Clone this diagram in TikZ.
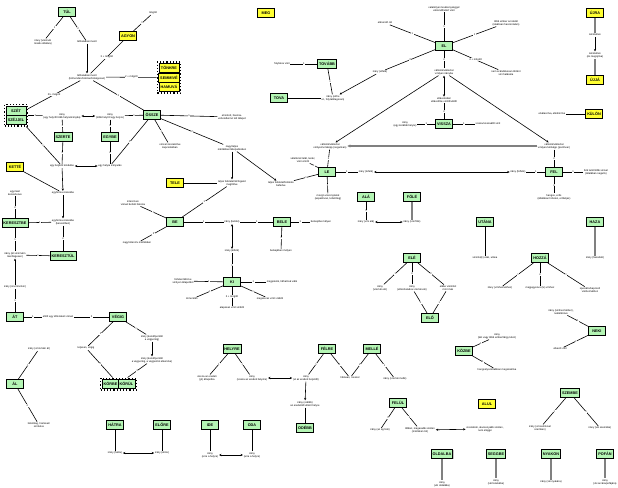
\documentclass[tikz,border=0pt]{standalone}
\usepackage{fontspec}
\setmainfont{Liberation Sans}
\usetikzlibrary{arrows.meta,shadows,fit}
\definecolor{boxgreen}{HTML}{B4F5B4}
\definecolor{boxyellow}{HTML}{FFFF33}
\newcommand{\tfont}{\fontsize{2.6}{3}\selectfont}
\newcommand{\bfont}{\fontsize{3.8}{4.2}\selectfont\bfseries}
\tikzset{
 gbox/.style={draw=black, line width=0.8pt, fill=boxgreen, font=\bfont, minimum width=17pt, minimum height=9pt, inner sep=1.5pt, drop shadow={shadow xshift=0.8pt, shadow yshift=-0.8pt, fill=black!45}},
 ybox/.style={gbox, fill=boxyellow},
 txt/.style={align=center, font=\tfont, inner sep=0.7pt},
 ln/.style={draw=black, line width=0.6pt},
 arr/.style={ln, -{Stealth[length=2.4pt, width=2.2pt]}},
 barr/.style={ln, {Stealth[length=2.4pt, width=2.2pt]}-{Stealth[length=2.4pt, width=2.2pt]}},
 gln/.style={draw=gray, line width=1.1pt},
 lbl/.style={fill=white, inner sep=0.4pt, font=\tfont},
 grp/.style={draw=black, dotted, line width=1.2pt, inner sep=1pt},
}
\begin{document}
\begin{tikzpicture}[x=1pt,y=-1pt]
\useasboundingbox (0,0) rectangle (618,487);
% ---------- top left
\node[gbox] (tul) at (67,12) {TÚL};
\node[txt] (t1) at (43,42) {irány (vmin/vki\\másik oldalára)};
\node[txt] (t2) at (87,42) {túlhaladási mező};
\node[txt] (mogott) at (153,13) {mögött};
\node[ybox] (agyon) at (128,36) {AGYON};
\node[txt] (t3) at (87,77) {túlhaladási mező\\(túlmenően/túlzóan/túlságosan)};
\node[ybox, minimum width=20pt] (tonkre) at (169,68) {TÖNKRE};
\node[ybox, minimum width=20pt] (szetre) at (169,77.5) {SEMMIVÉ};
\node[ybox, minimum width=20pt] (kiaba) at (169,87) {HAMUVÁ};
\node[grp, fit=(tonkre)(szetre)(kiaba)] (trip) {};
\node[gbox, minimum width=20pt] (szet) at (16,110.5) {SZÉT};
\node[gbox, minimum width=20pt] (szejjel) at (16,120) {SZÉJJEL};
\node[grp, fit=(szet)(szejjel)] (szetg) {};
\draw[ln] (tul) -- node[lbl]{1} (t1);
\draw[ln] (tul) -- node[lbl]{2} (t2);
\draw[ln] (mogott) -- node[lbl]{1} (agyon);
\draw[arr] (t2) -- (t3);
\draw[ln] (agyon) -- node[lbl]{3 + mögött} (t3);
\draw[ln] (t3) -- node[lbl]{2 + mögött} (trip);
\draw[ln] (t3) -- node[lbl]{2/+ mögött} (szetg);
% ---------- mid left
\node[gbox] (ossze) at (152,115) {ÖSSZE};
\draw[ln] (t3) -- node[lbl]{3} (ossze);
\node[txt] (t4) at (62,116) {irány\\(egy helyről több helyre/irányba)};
\node[txt] (t5) at (110,116) {irány\\(több helyről egy helyre)};
\draw[ln] (szetg) -- node[lbl]{1} (t4);
\draw[barr] (t4) -- (t5);
\draw[ln] (t5) -- node[lbl]{1} (ossze);
\node[gbox] (szerte) at (63,137) {SZERTE};
\node[gbox] (egybe) at (110,137) {EGYBE};
\draw[ln] (t4) -- node[lbl]{1} (szerte);
\draw[ln] (t5) -- node[lbl]{1} (egybe);
\node[txt] (t6) at (62,166) {egy helyből kiindulás};
\node[txt] (t7) at (110,166) {egy helyre irányulás};
\draw[barr] (t6) -- (t7);
\draw[ln] (szetg) -- node[lbl]{1} (t6);
\draw[ln] (szerte) -- node[lbl]{2} (t6);
\draw[ln] (ossze) -- node[lbl]{1} (t7);
\draw[ln] (egybe) -- node[lbl]{2} (t7);
\node[ybox] (kette) at (15,167) {KETTÉ};
\node[txt] (t8) at (63,193) {egyforma részekbe};
\node[txt] (t9) at (63,222) {egyforma részekbe\\(keresztben)};
\draw[ln] (kette) -- (t8);
\draw[arr] (t6) -- (t8);
\draw[arr] (t8) -- (t9);
\node[gbox] (kbe) at (15,223) {KERESZTBE};
\node[gbox] (kul) at (63,256) {KERESZTÜL};
\node[txt] (t87) at (15,193) {egymást\\keresztezve};
\draw[ln] (kbe) -- node[lbl]{2} (t87);
\draw[ln] (kbe) -- node[lbl]{1} (t9);
\draw[ln] (t9) -- node[lbl]{2} (kul);
\node[txt] (t10) at (15,255) {irány (át vmin/vkin\\merőlegesen)};
\draw[ln] (kbe) -- node[lbl]{1} (t10);
\draw[ln] (t10) -- node[lbl]{1} (kul);
\node[txt] (t11) at (15,287) {irány (át vmin/vkin)};
\draw[arr] (t11) -- (t10);
\node[gbox] (at) at (15,317) {ÁT};
\draw[ln] (at) -- node[lbl]{1} (t11);
\node[txt] (t12) at (58,317) {eltölt egy időszakot vmivel};
\node[gbox] (vegig) at (118,317) {VÉGIG};
\draw[ln] (at) -- node[lbl]{1} (t12);
\draw[ln] (t12) -- node[lbl]{2} (vegig);
\node[txt] (t13) at (86,348) {teljesen, végig};
\node[txt] (t14) at (152,338) {irány (kezdőponttól\\a végpontig)};
\node[txt] (t15) at (152,360) {irány (kezdőponttól\\a végpontig, a végpontot elkerülve)};
\draw[ln] (vegig) -- node[lbl]{1} (t13);
\draw[ln] (vegig) -- node[lbl]{1} (t14);
\draw[arr] (t14) -- (t15);
\node[gbox] (korbe) at (110.5,384) {KÖRBE};
\node[gbox] (korul) at (126.5,384) {KÖRÜL};
\node[grp, fit=(korbe)(korul)] (korg) {};
\draw[ln] (t13) -- node[lbl]{2} (korg);
\draw[ln] (t15) -- node[lbl]{2} (korg);
\node[gbox] (al) at (15,384) {ÁL};
\node[txt] (t88) at (39,349) {irány (vmin/vkin át)};
\node[txt] (t89) at (39,425) {látszólag, hamisan/\\színlelve};
\draw[ln] (al) -- node[lbl]{1} (t88);
\draw[ln] (al) -- node[lbl]{2} (t89);
% ---------- center
\node[txt] (t16) at (232,117) {elrontott, haszna-\\vehetetlenné tett állapot};
\node[txt] (t17) at (170,146) {vmivel összekötve\\kapcsolatban};
\node[txt] (t18) at (232,148) {nagy/teljes\\mértékben/kiterjedésben};
\draw[ln] (ossze) -- node[lbl]{1} (t16);
\draw[ln] (ossze) -- node[lbl]{1} (t17);
\draw[ln] (ossze) -- node[lbl]{2} (t18);
\node[txt] (t19) at (232,183) {teljes felületet/térfogatot\\megtöltve};
\node[ybox] (tele) at (175,183) {TELE};
\draw[arr] (t18) -- (t19);
\draw[ln] (tele) -- (t19);
\node[txt] (t20) at (281,184) {teljes felületet/felületre\\befedve};
\draw[arr] (t18) -- (t20);
\node[txt] (t21) at (303,160) {véletlenül lelát, lenéz,\\vmit vmiről};
\node[gbox] (le) at (327,172) {LE};
\draw[ln] (le) -- node[lbl]{1} (t21);
\draw[ln] (le) -- node[lbl]{1} (t20);
\node[txt] (t22) at (330,146) {változik/változtat\\vmilyen/vmiképp (negatívan)};
\draw[ln] (t22) -- node[lbl]{2} (le);
\node[txt] (t23) at (366,172) {irány (lefelé)};
\node[txt] (t25) at (518,172) {irány (felfelé)};
\node[gbox] (fel) at (554,172) {FEL};
\draw[ln] (le) -- node[lbl]{1} (t23);
\draw[barr] (t23) -- (t25);
\draw[ln] (t25) -- node[lbl]{1} (fel);
\node[txt] (t26) at (596,172) {felé tartó/több vmivel\\(általában negatív)};
\node[txt] (t27) at (554,197) {hangos, erős\\(általában hirtelen, erőteljes)};
\draw[ln] (fel) -- node[lbl]{1} (t26);
\draw[ln] (fel) -- node[lbl]{2} (t27);
\node[txt] (t28) at (554,146) {változik/változtat\\vmilyen/vmiképp (pozitívan)};
\draw[ln] (t28) -- node[lbl]{2} (fel);
\draw[gln, -{Stealth[length=3pt, width=3pt]}] (t28) -- (t22);
\node[txt] (t29) at (328,197) {mozgó viszonylatok\\(aspektívan, lehetőleg)};
\draw[ln] (le) -- node[lbl]{2} (t29);
\node[gbox] (ala) at (366,197) {ALÁ};
\node[gbox] (fole) at (412,197) {FÖLÉ};
\node[txt] (t30) at (366,222) {irány (vmi alá)};
\node[txt] (t31) at (412,222) {irány (vmi fölé)};
\draw[ln] (ala) -- node[lbl]{1} (t30);
\draw[gln] (fole) -- (t31);
\draw[barr] (t30) -- (t31);
\node[gbox] (be) at (175,222) {BE};
\node[gbox] (bele) at (282,222) {BELE};
\node[txt] (t32) at (232,222) {irány (befelé)};
\draw[ln] (be) -- node[lbl]{1} (t32);
\draw[ln] (t32) -- node[lbl]{1} (bele);
\node[txt] (t33) at (321,222) {belsejébe mélyen};
\node[txt] (t34) at (281,251) {belsejében mélyen};
\draw[ln] (bele) -- node[lbl]{1} (t33);
\draw[ln] (bele) -- node[lbl]{2} (t34);
\node[txt] (t35) at (133,203) {intenzíven\\vmivel befelé hatolva};
\node[txt] (t36) at (137,243) {nagy/intenzív mértékben};
\draw[ln] (be) -- node[lbl]{1} (t35);
\draw[ln] (be) -- node[lbl]{2} (t36);
\draw[ln] (be) -- node[lbl]{1} (t19);
\node[txt] (t37) at (232,251) {irány (kifelé)};
\node[gbox] (ki) at (232,282) {KI};
\draw[barr] (t32) -- (t37);
\draw[ln] (t37) -- node[lbl]{1} (ki);
\node[txt] (t38) at (183,281) {hirtelen/kitörve\\vmilyen állapotból};
\node[txt] (t39) at (282,282) {megjelenik, láthatóvá válik};
\node[txt] (t40) at (192,299) {kimerülés};
\node[txt] (t41) at (232,308) {alaposan vmit vmiből};
\node[txt] (t42) at (270,299) {megszerez vmit vmiből};
\draw[ln] (ki) -- node[lbl]{1} (t38);
\draw[ln] (ki) -- node[lbl]{1} (t39);
\draw[ln] (ki) -- node[lbl]{1} (t40);
\draw[ln] (ki) -- node[lbl]{2 + mögött} (t41);
\draw[ln] (ki) -- node[lbl]{1} (t42);
% ---------- top center / right
\node[ybox] (meg) at (266,13) {MEG};
\node[txt] (t90) at (282,64) {folytatva vmit};
\node[gbox] (tovabb) at (327,64) {TOVÁBB};
\draw[ln] (t90) -- node[lbl]{1} (tovabb);
\node[gbox] (tova) at (279,98) {TOVA};
\node[txt] (t43) at (333,98) {irány (előre\\el-, folytatólagosan)};
\draw[ln] (tova) -- (t43);
\draw[ln] (tovabb) -- node[lbl]{1} (t43);
\node[gbox] (el) at (444,46) {EL};
\node[txt] (t44) at (444,9) {valamilyen tevékenységgel\\elérendő/elért vmit};
\node[txt] (t45) at (385,23) {elérendő cél};
\node[txt] (t46) at (506,23) {több ember az ideált\\(ideálisan haszontalan)};
\node[txt] (t47) at (506,73) {nem szándékosan történt\\vmi hatására};
\node[txt] (t48) at (380,72) {irány (elfelé)};
\node[txt] (t49) at (444,72) {változik/változtat\\vmilyen irányba};
\draw[ln] (el) -- node[lbl]{1} (t44);
\draw[ln] (el) -- node[lbl]{1} (t45);
\draw[ln] (el) -- node[lbl]{1} (t46);
\draw[ln] (el) -- node[lbl]{4 + mögött} (t47);
\draw[ln] (el) -- node[lbl]{3} (t48);
\draw[ln] (el) -- node[lbl]{2} (t49);
\draw[arr] (t48) -- (t43);
\node[txt] (t50) at (444,100) {eltávolodás/\\eltávolítás vmitől/vkitől};
\draw[barr] (t49) -- (t50);
\node[gbox] (vissza) at (444,124) {VISSZA};
\draw[ln] (t50) -- node[lbl]{2} (vissza);
\node[txt] (t51) at (405,124) {irány\\(egy korábbi helyre)};
\node[txt] (t52) at (488,124) {vissza/visszaállít vmit};
\draw[ln] (vissza) -- node[lbl]{1} (t51);
\draw[ln] (vissza) -- node[lbl]{1} (t52);
\draw[arr] (t49) -- (t22);
\draw[arr] (t49) -- (t28);
\node[ybox] (ujra) at (595,13) {ÚJRA};
\node[txt] (t53) at (595,35) {ismételten};
\node[txt] (t54) at (595,55) {ismételten\\(és megújítva)};
\node[ybox] (ujja) at (595,80) {ÚJJÁ};
\draw[gln] (ujra) -- (t53);
\draw[arr] (t53) -- (t54);
\draw[gln] (t54) -- (ujja);
\node[ybox] (kulon) at (594,114) {KÜLÖN};
\node[txt] (t55) at (552,114) {elválasztva, elkülönítve};
\draw[ln] (t55) -- (kulon);
% ---------- right middle
\node[gbox] (utana) at (485,222) {UTÁNA};
\node[txt] (t56) at (485,258) {vmi/vki(k) után, utána};
\draw[ln] (utana) -- (t56);
\node[gbox] (haza) at (595,222) {HAZA};
\node[txt] (t57) at (595,258) {irány (hazafelé)};
\draw[gln] (haza) -- (t57);
\node[gbox] (hozza) at (540,258) {HOZZÁ};
\node[txt] (t58) at (500,288) {irány (vmihez/vkihez)};
\node[txt] (t59) at (540,288) {megjegyezve (le) vmihez};
\node[txt] (t60) at (590,290) {speciális/kapcsolt\\vmihez/vkihez};
\draw[ln] (hozza) -- node[lbl]{1} (t58);
\draw[ln] (hozza) -- node[lbl]{2} (t59);
\draw[ln] (hozza) -- node[lbl]{1} (t60);
\node[gbox] (neki) at (597,331) {NEKI};
\node[txt] (t61) at (561,312) {irány (vmihez/vkihez),\\nekiütközve};
\node[txt] (t62) at (560,349) {elkezd vmit};
\draw[ln] (t61) -- node[lbl]{1} (neki);
\draw[ln] (neki) -- node[lbl]{2} (t62);
\node[gbox] (ele) at (412,258) {ELÉ};
\node[txt] (t63) at (380,288) {irány\\(vmi/vki elé)};
\node[txt] (t64) at (412,288) {irány\\(előrehaladva vmi/vki elé)};
\node[txt] (t65) at (448,288) {elébe vmit/vkit\\mint más};
\draw[ln] (ele) -- node[lbl]{1} (t63);
\draw[ln] (ele) -- node[lbl]{2} (t64);
\draw[ln] (ele) -- node[lbl]{3} (t65);
\node[gbox] (elo) at (430,318) {ELŐ};
\draw[ln] (t64) -- node[lbl]{1} (elo);
\draw[ln] (t65) -- node[lbl]{1} (elo);
\node[gbox] (kozbe) at (464,351) {KÖZBE};
\node[txt] (t66) at (497,336) {irány\\(két vagy több ember/tárgy közé)};
\node[txt] (t67) at (497,370) {hangsúlyozottabban megszakítva};
\draw[ln] (kozbe) -- node[lbl]{1} (t66);
\draw[ln] (kozbe) -- node[lbl]{1} (t67);
\node[gbox] (szembe) at (570,393) {SZEMBE};
\node[txt] (t68) at (540,428) {irány (vmivel/vkivel\\szemben)};
\node[txt] (t69) at (600,428) {irány (vki szemébe)};
\draw[ln] (szembe) -- node[lbl]{1} (t68);
\draw[ln] (szembe) -- node[lbl]{1} (t69);
\node[ybox] (alul) at (487,404) {ALUL};
\node[txt] (t70) at (485,429) {visszafelé, alacsonyabb szinten,\\nem eléggé};
\node[gbox] (felul) at (398,403) {FELÜL};
\node[txt] (t71) at (380,430) {irány (az ég felé)};
\node[txt] (t72) at (420,430) {többet, magasabb szinten\\(mértéken túl)};
\draw[ln] (felul) -- node[lbl]{1} (t71);
\draw[ln] (felul) -- node[lbl]{2} (t72);
\draw[barr] (t72) -- (t70);
% ---------- bottom row right
\node[gbox] (oldal) at (442,454) {OLDALBA};
\node[txt] (t73) at (442,484) {irány\\(vki oldalába)};
\node[gbox] (segg) at (496,454) {SEGGBE};
\node[txt] (t74) at (496,482) {irány\\(vki fenekébe)};
\node[gbox] (nyakon) at (551,454) {NYAKON};
\node[txt] (t75) at (551,482) {irány (vki nyakára)};
\node[gbox] (pofan) at (605,454) {POFÁN};
\node[txt] (t76) at (605,482) {irány\\(vki arcára/pofájára)};
\draw[gln] (oldal) -- (t73);
\draw[gln] (segg) -- (t74);
\draw[gln] (nyakon) -- (t75);
\draw[gln] (pofan) -- (t76);
% ---------- bottom middle
\node[gbox] (helyre) at (232,349) {HELYRE};
\node[txt] (t77) at (207,378) {vissza az eredeti\\(jó) állapotba};
\node[txt] (t78) at (252,378) {irány\\(vissza az eredeti helyére)};
\draw[ln] (helyre) -- node[lbl]{1} (t77);
\draw[ln] (helyre) -- node[lbl]{1} (t78);
\node[gbox] (felre) at (327,349) {FÉLRE};
\node[txt] (t79) at (306,378) {irány\\(el az eredeti helyéről)};
\node[txt] (t80) at (350,378) {hibásan, rosszul};
\draw[ln] (felre) -- node[lbl]{1} (t79);
\draw[ln] (felre) -- node[lbl]{1} (t80);
\draw[barr] (t78) -- (t79);
\node[gbox] (melle) at (372,349) {MELLÉ};
\node[txt] (t81) at (395,379) {irány (vmi/vki mellé)};
\draw[ln] (melle) -- node[lbl]{2} (t80);
\draw[ln] (melle) -- node[lbl]{1} (t81);
\node[txt] (t82) at (305,404) {irány (odébb)\\az eredetitől eltérő helyre};
\node[gbox] (odebb) at (305,428) {ODÉBB};
\draw[arr] (t79) -- (t82);
\draw[ln] (t82) -- (odebb);
\node[gbox] (hatra) at (115,425) {HÁTRA};
\node[gbox] (elore) at (162,425) {ELŐRE};
\node[txt] (t83) at (115,453) {irány (hátra)};
\node[txt] (t84) at (162,453) {irány (előre)};
\draw[ln] (hatra) -- (t83);
\draw[ln] (elore) -- (t84);
\draw[barr] (t83) -- (t84);
\node[gbox] (ide) at (210,425) {IDE};
\node[gbox] (oda) at (252,425) {ODA};
\node[txt] (t85) at (210,455) {irány\\(erre a helyre)};
\node[txt] (t86) at (252,455) {irány\\(arra a helyre)};
\draw[ln] (ide) -- (t85);
\draw[ln] (oda) -- (t86);
\draw[barr] (t85) -- (t86);
\end{tikzpicture}
\end{document}
